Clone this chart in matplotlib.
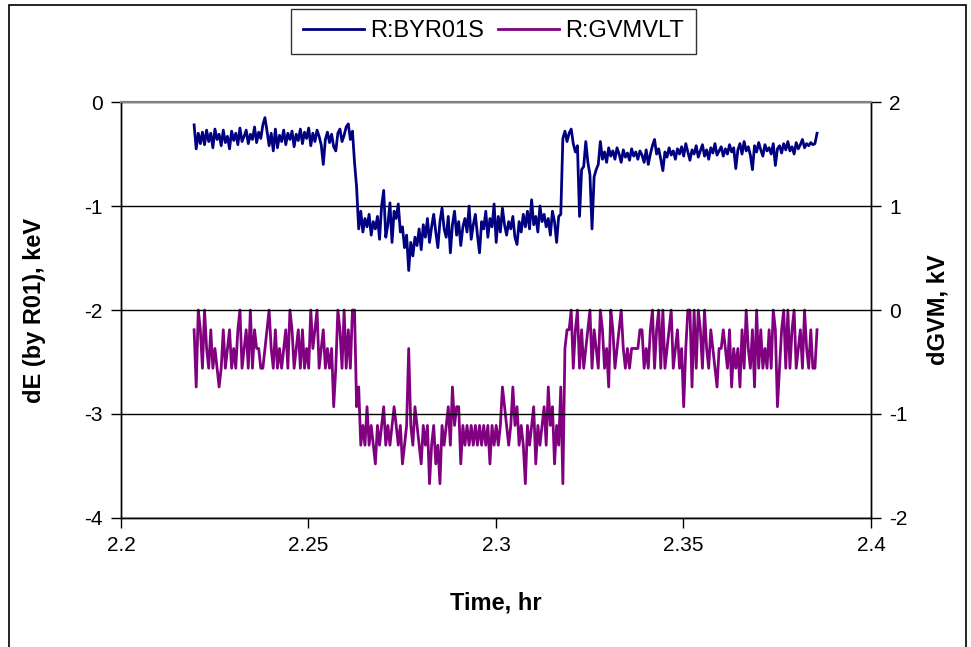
"""
dE (by R01) and dGVM versus time, Excel-style two-axis chart.
"""
import numpy as np
import matplotlib
matplotlib.use("Agg")
import matplotlib.pyplot as plt
from matplotlib.patches import Rectangle

plt.rcParams['font.family'] = ['Liberation Sans', 'DejaVu Sans']
plt.rcParams['axes.unicode_minus'] = False

# time axis: samples every 2 s starting at 2.2195 hr
t_start = 2.2195
t_step = 2.0 / 3600.0

# R:BYR01S  (dE, keV)
byr01s = [
    -0.22, -0.45, -0.30, -0.40, -0.29, -0.41, -0.27, -0.38, -0.30, -0.44, -0.26, -0.36, -0.31, -0.42, -0.27, -0.39, -0.33, -0.45, -0.28, -0.37,
    -0.30, -0.41, -0.25, -0.38, -0.33, -0.27, -0.40, -0.31, -0.36, -0.24, -0.39, -0.29, -0.35, -0.22, -0.15, -0.28, -0.42, -0.30, -0.47, -0.26,
    -0.44, -0.32, -0.38, -0.27, -0.41, -0.30, -0.36, -0.28, -0.43, -0.31, -0.37, -0.26, -0.40, -0.29, -0.35, -0.25, -0.42, -0.30, -0.38, -0.27,
    -0.33, -0.41, -0.60, -0.36, -0.29, -0.39, -0.31, -0.43, -0.47, -0.30, -0.26, -0.38, -0.32, -0.24, -0.21, -0.36, -0.28, -0.58, -0.82, -1.22,
    -1.05, -1.25, -1.12, -1.20, -1.08, -1.28, -1.15, -1.22, -1.10, -1.32, -1.00, -0.85, -1.30, -1.18, -0.97, -1.35, -1.05, -1.12, -0.98, -1.25,
    -1.20, -1.40, -1.28, -1.62, -1.35, -1.48, -1.30, -1.38, -1.22, -1.42, -1.18, -1.30, -1.12, -1.35, -1.20, -1.08, -1.25, -1.40, -1.15, -1.02,
    -1.22, -1.30, -1.10, -1.45, -1.18, -1.05, -1.28, -1.15, -1.38, -1.20, -1.12, -1.25, -1.00, -1.32, -1.18, -1.08, -1.28, -1.45, -1.15, -1.22,
    -1.05, -1.30, -1.12, -1.20, -0.98, -1.35, -1.10, -1.25, -1.02, -1.18, -1.28, -1.15, -1.22, -1.10, -1.30, -1.37, -1.15, -1.25, -1.08, -1.20,
    -1.05, -1.22, -0.94, -1.18, -1.10, -1.25, -1.00, -1.15, -1.08, -1.20, -1.12, -1.28, -1.05, -1.15, -1.35, -1.10, -1.08, -0.35, -0.28, -0.38,
    -0.30, -0.26, -0.40, -0.48, -0.42, -1.10, -0.65, -0.62, -0.38, -0.58, -0.70, -1.22, -0.72, -0.65, -0.60, -0.38, -0.55, -0.48, -0.58, -0.44,
    -0.52, -0.47, -0.55, -0.44, -0.50, -0.58, -0.46, -0.53, -0.49, -0.56, -0.45, -0.52, -0.48, -0.55, -0.47, -0.51, -0.58, -0.46, -0.60, -0.50,
    -0.42, -0.36, -0.50, -0.45, -0.55, -0.66, -0.48, -0.53, -0.44, -0.51, -0.47, -0.55, -0.45, -0.50, -0.43, -0.52, -0.40, -0.48, -0.56, -0.46,
    -0.50, -0.42, -0.53, -0.47, -0.41, -0.52, -0.46, -0.55, -0.44, -0.49, -0.40, -0.51, -0.47, -0.43, -0.52, -0.45, -0.50, -0.41, -0.48, -0.44,
    -0.64, -0.46, -0.40, -0.50, -0.38, -0.47, -0.43, -0.51, -0.65, -0.42, -0.48, -0.39, -0.46, -0.52, -0.41, -0.47, -0.44, -0.50, -0.40, -0.61,
    -0.45, -0.42, -0.49, -0.40, -0.46, -0.38, -0.47, -0.43, -0.50, -0.39, -0.45, -0.41, -0.36, -0.44, -0.40, -0.42, -0.39, -0.41, -0.40, -0.30,
]

# R:GVMVLT  (dGVM, kV) -- readback is quantized in ~0.185 kV steps
a, b, c, d, e, f, g, h, i, j = 0.0, -0.19, -0.37, -0.56, -0.74, -0.93, -1.11, -1.30, -1.48, -1.67
gvmvlt = [
    b, e, a, b, d, a, c, d, b, d, c, d, e, d, b, d, c, b, d, c,
    d, b, a, d, c, b, d, a, d, b, c, c, d, d, c, b, a, c, d, b,
    d, c, d, c, b, d, a, b, d, c, b, d, b, d, c, d, a, c, b, a,
    d, c, b, d, c, d, c, f, d, a, b, d, a, d, b, d, a, a, f, e,
    h, g, h, f, h, g, h, i, g, h, g, f, h, g, h, g, f, g, h, g,
    i, h, g, c, g, h, f, g, h, i, g, h, g, j, h, g, i, h, j, g,
    h, g, f, h, e, g, f, f, i, g, h, g, h, g, h, g, h, g, h, g,
    h, g, i, g, h, g, h, g, e, f, g, h, g, e, g, f, h, g, h, j,
    g, h, g, f, i, g, h, g, f, h, e, g, f, i, g, h, e, j, c, b,
    b, a, d, b, a, d, b, d, c, b, a, d, b, c, d, a, b, d, c, e,
    a, b, d, c, b, a, c, d, c, d, c, c, c, c, b, b, d, c, d, b,
    a, d, b, a, d, a, d, c, b, a, d, c, b, d, c, f, c, a, a, e,
    a, d, a, b, d, a, c, d, b, c, d, e, c, c, b, c, d, b, e, c,
    d, c, e, b, d, a, c, d, b, e, a, d, b, d, c, d, b, d, a, b,
    f, d, b, a, d, a, d, b, a, d, c, b, d, a, c, d, b, d, d, b,
]

time_hr = t_start + t_step * np.arange(len(byr01s))

fig = plt.figure(figsize=(9.71, 6.47), dpi=100)
ax = fig.add_axes([0.1246, 0.1994, 0.7724, 0.6429])
ax2 = ax.twinx()

ax.set_zorder(ax2.get_zorder() + 1)
ax.patch.set_visible(False)

l1, = ax.plot(time_hr, byr01s, color='#000080', lw=2, label='R:BYR01S')
l2, = ax2.plot(time_hr, gvmvlt, color='#800080', lw=2, label='R:GVMVLT')

ax.set_xlim(2.2, 2.4)
ax.set_ylim(-4, 0)
ax2.set_ylim(-2, 2)
ax.set_xticks([2.2, 2.25, 2.3, 2.35, 2.4])
ax.set_xticklabels(['2.2', '2.25', '2.3', '2.35', '2.4'])
ax.set_yticks([0, -1, -2, -3, -4])
ax2.set_yticks([2, 1, 0, -1, -2])

for axis in (ax, ax2):
    axis.tick_params(direction='out', length=7, width=1, labelsize=15, pad=6)
    for s in axis.spines.values():
        s.set_linewidth(1)
    axis.spines['top'].set_color('#808080')
    axis.spines['top'].set_linewidth(1.5)

ax.yaxis.grid(True, color='black', lw=1)
ax.set_axisbelow(True)

ax.set_xlabel('Time, hr', fontsize=17, fontweight='bold', labelpad=26)
ax.set_ylabel('dE (by R01), keV', fontsize=17, fontweight='bold', labelpad=28)
ax2.set_ylabel('dGVM, kV', fontsize=17, fontweight='bold', labelpad=14)

leg = fig.legend([l1, l2], ['R:BYR01S', 'R:GVMVLT'], loc='upper center',
                 bbox_to_anchor=(0.508, 1.005), ncol=2, fontsize=17,
                 frameon=True, fancybox=False, edgecolor='black',
                 handlelength=2.6, handletextpad=0.25, columnspacing=0.6,
                 borderpad=0.5)
leg.get_frame().set_linewidth(1)

# outer chart border
fig.patches.append(Rectangle((0.009, -0.05), 0.986, 1.043, transform=fig.transFigure,
                             fill=False, edgecolor='black', lw=1.2))

fig.savefig('out.png', dpi=100)
